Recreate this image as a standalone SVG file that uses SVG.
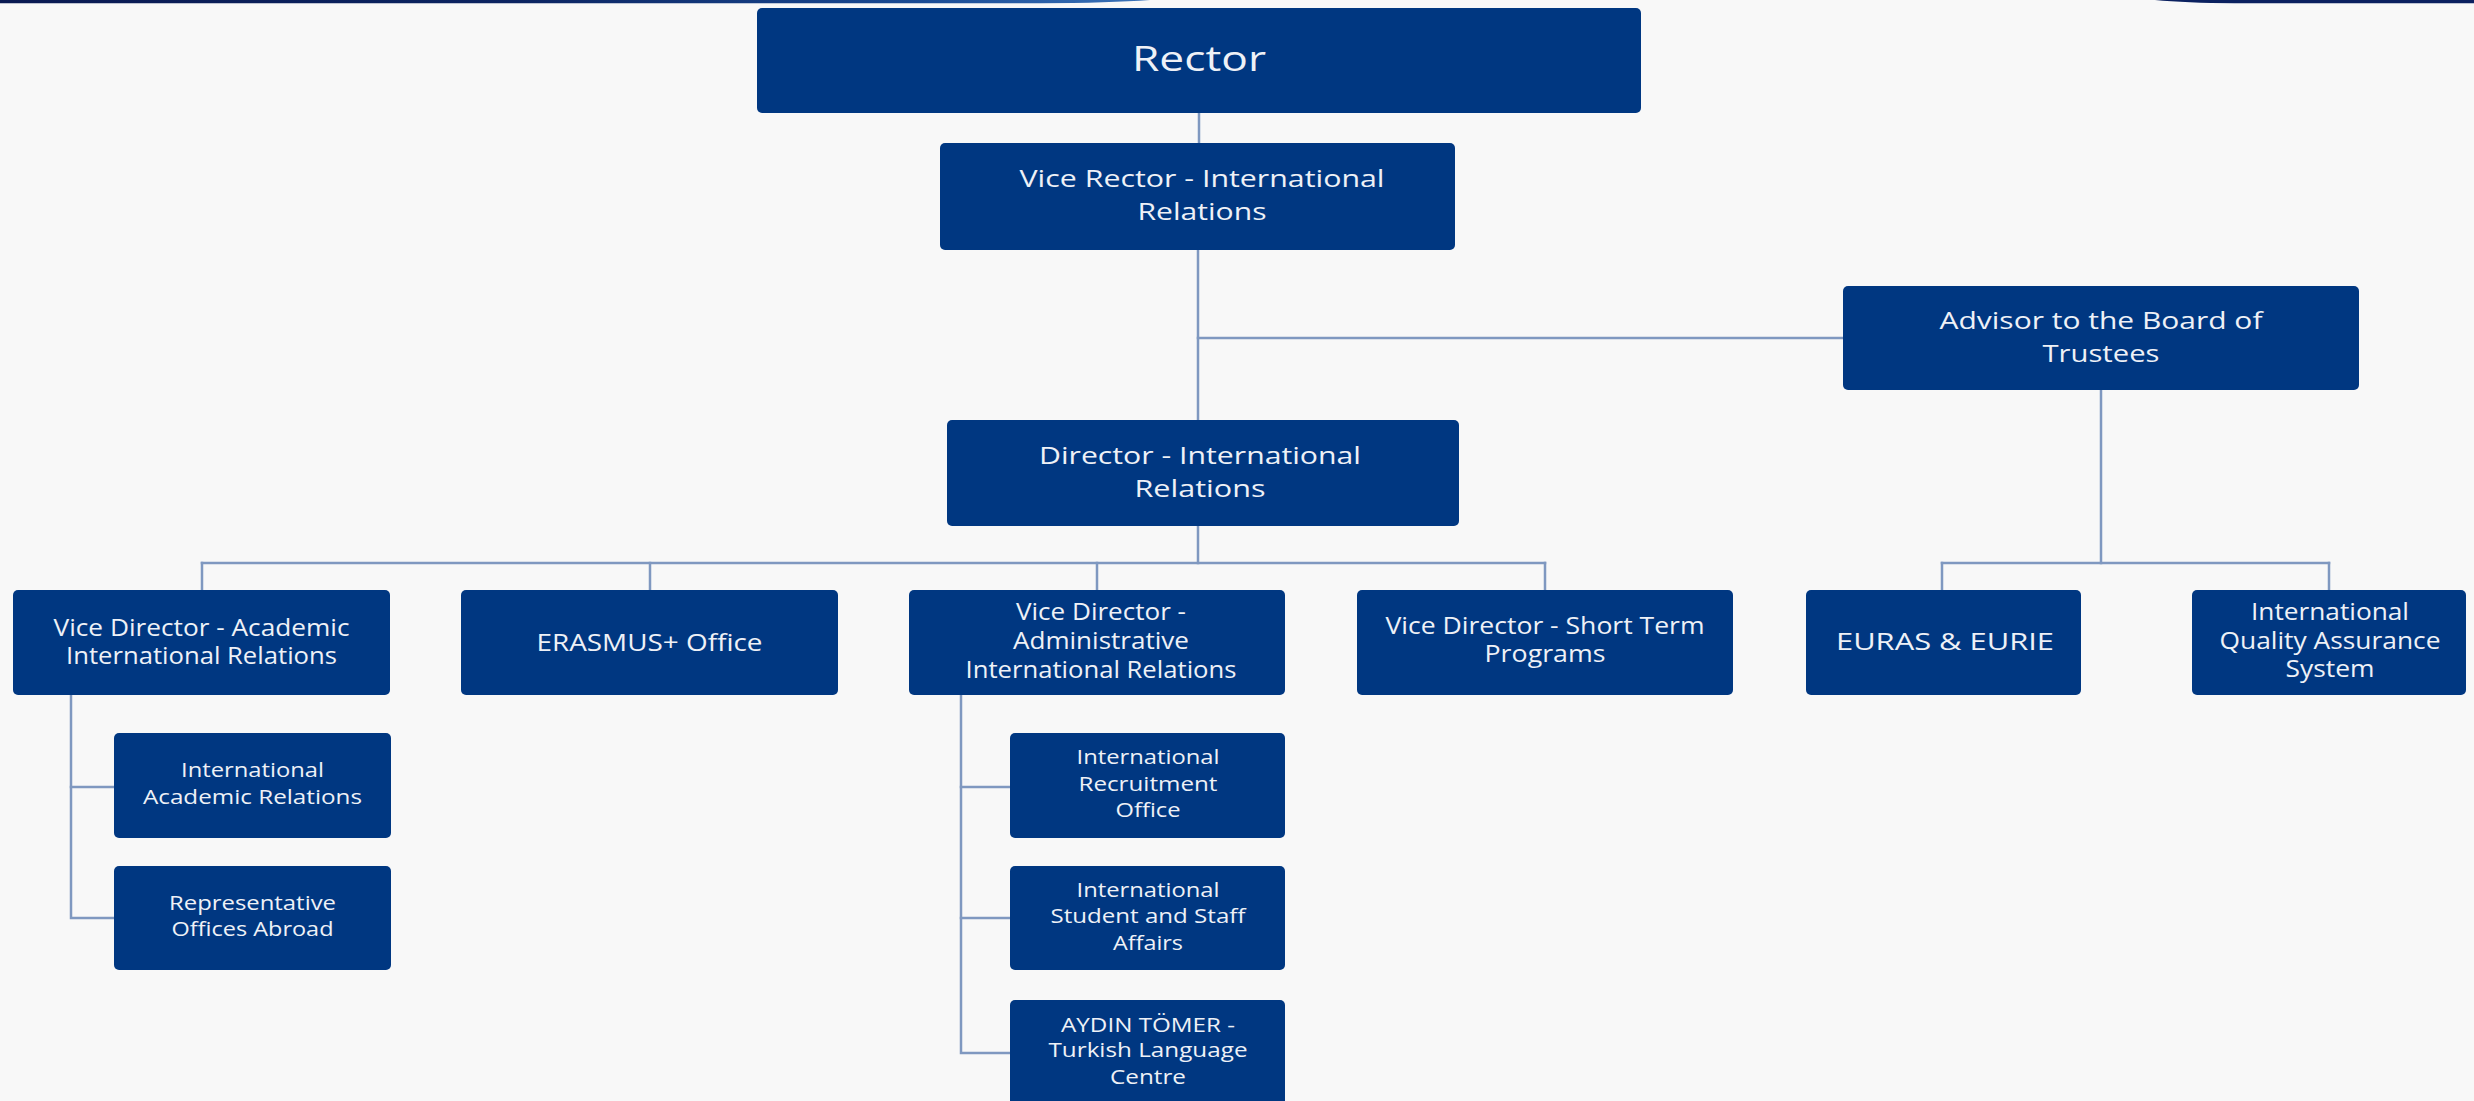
<svg xmlns="http://www.w3.org/2000/svg" width="2474" height="1101" viewBox="0 0 2474 1101">
<defs>
<linearGradient id="band" x1="0" y1="0" x2="1" y2="0">
<stop offset="0" stop-color="#0a1a52"/>
<stop offset="0.45" stop-color="#0c2461"/>
<stop offset="0.8" stop-color="#1a4b94"/>
<stop offset="1" stop-color="#3a72b8"/>
</linearGradient>
<style>
.box{fill:#003781;}
.t{font-family:"Open Sans","Noto Sans","DejaVu Sans",sans-serif;fill:#eef1f7;text-anchor:middle;}
.t0{font-size:34px;}
.t1{font-size:24px;}
.t2{font-size:23px;}
.t3{font-size:20px;}
.conn{stroke:#7f98c0;stroke-width:2.5;fill:none;stroke-linecap:square;}
</style>
</defs>
<rect x="0" y="0" width="2474" height="1101" fill="#f8f8f8"/>
<path d="M0,0 H1150 Q1110,3 1040,3.2 H0 Z" fill="url(#band)"/>
<path d="M2155,0 H2474 V3.2 H2235 Q2185,3 2155,0 Z" fill="#0b2160"/>

<g id="connectors" class="conn">
<path d="M1199,113 V143"/>
<path d="M1198,250 V420"/>
<path d="M1198,338 H1843"/>
<path d="M1198,526 V563"/>
<path d="M202,563 H1545"/>
<path d="M202,563 V590"/>
<path d="M650,563 V590"/>
<path d="M1097,563 V590"/>
<path d="M1545,563 V590"/>
<path d="M2101,390 V563"/>
<path d="M1942,563 H2329"/>
<path d="M1942,563 V590"/>
<path d="M2329,563 V590"/>
<path d="M71,695 V918 H114"/>
<path d="M71,787 H114"/>
<path d="M961,695 V1053 H1010"/>
<path d="M961,787 H1010"/>
<path d="M961,918 H1010"/>
</g>

<g id="rector">
<rect class="box" x="757" y="8" width="884" height="105" rx="5"/>
<text class="t t0" x="1199" y="71" textLength="134" lengthAdjust="spacingAndGlyphs">Rector</text>
</g>
<g id="vice-rector">
<rect class="box" x="940" y="143" width="515" height="107" rx="5"/>
<text class="t t1" x="1202" y="187" textLength="365" lengthAdjust="spacingAndGlyphs">Vice Rector - International</text>
<text class="t t1" x="1202" y="220" textLength="129" lengthAdjust="spacingAndGlyphs">Relations</text>
</g>
<g id="advisor">
<rect class="box" x="1843" y="286" width="516" height="104" rx="5"/>
<text class="t t1" x="2101" y="329" textLength="323" lengthAdjust="spacingAndGlyphs">Advisor to the Board of</text>
<text class="t t1" x="2101" y="362" textLength="117" lengthAdjust="spacingAndGlyphs">Trustees</text>
</g>
<g id="director">
<rect class="box" x="947" y="420" width="512" height="106" rx="5"/>
<text class="t t1" x="1200" y="464" textLength="322" lengthAdjust="spacingAndGlyphs">Director - International</text>
<text class="t t1" x="1200" y="497" textLength="131" lengthAdjust="spacingAndGlyphs">Relations</text>
</g>

<g id="vd-academic">
<rect class="box" x="13" y="590" width="377" height="105" rx="5"/>
<text class="t t2" x="201.5" y="636" textLength="296" lengthAdjust="spacingAndGlyphs">Vice Director - Academic</text>
<text class="t t2" x="201.5" y="664" textLength="271" lengthAdjust="spacingAndGlyphs">International Relations</text>
</g>
<g id="erasmus">
<rect class="box" x="461" y="590" width="377" height="105" rx="5"/>
<text class="t t2" x="649.5" y="651" textLength="226" lengthAdjust="spacingAndGlyphs">ERASMUS+ Office</text>
</g>
<g id="vd-administrative">
<rect class="box" x="909" y="590" width="376" height="105" rx="5"/>
<text class="t t2" x="1101" y="620" textLength="170" lengthAdjust="spacingAndGlyphs">Vice Director -</text>
<text class="t t2" x="1101" y="649" textLength="176" lengthAdjust="spacingAndGlyphs">Administrative</text>
<text class="t t2" x="1101" y="678" textLength="271" lengthAdjust="spacingAndGlyphs">International Relations</text>
</g>
<g id="vd-short-term">
<rect class="box" x="1357" y="590" width="376" height="105" rx="5"/>
<text class="t t2" x="1545" y="634" textLength="319" lengthAdjust="spacingAndGlyphs">Vice Director - Short Term</text>
<text class="t t2" x="1545" y="662" textLength="121" lengthAdjust="spacingAndGlyphs">Programs</text>
</g>
<g id="euras">
<rect class="box" x="1806" y="590" width="275" height="105" rx="5"/>
<text class="t t2" x="1945" y="650" textLength="218" lengthAdjust="spacingAndGlyphs">EURAS &amp; EURIE</text>
</g>
<g id="iqas">
<rect class="box" x="2192" y="590" width="274" height="105" rx="5"/>
<text class="t t2" x="2330" y="620" textLength="158" lengthAdjust="spacingAndGlyphs">International</text>
<text class="t t2" x="2330" y="649" textLength="221" lengthAdjust="spacingAndGlyphs">Quality Assurance</text>
<text class="t t2" x="2330" y="677" textLength="89" lengthAdjust="spacingAndGlyphs">System</text>
</g>

<g id="int-academic-relations">
<rect class="box" x="114" y="733" width="277" height="105" rx="5"/>
<text class="t t3" x="252.5" y="777" textLength="143" lengthAdjust="spacingAndGlyphs">International</text>
<text class="t t3" x="252.5" y="804" textLength="219" lengthAdjust="spacingAndGlyphs">Academic Relations</text>
</g>
<g id="representative-offices">
<rect class="box" x="114" y="866" width="277" height="104" rx="5"/>
<text class="t t3" x="252.5" y="910" textLength="167" lengthAdjust="spacingAndGlyphs">Representative</text>
<text class="t t3" x="252.5" y="936" textLength="162" lengthAdjust="spacingAndGlyphs">Offices Abroad</text>
</g>
<g id="recruitment-office">
<rect class="box" x="1010" y="733" width="275" height="105" rx="5"/>
<text class="t t3" x="1148" y="764" textLength="143" lengthAdjust="spacingAndGlyphs">International</text>
<text class="t t3" x="1148" y="791" textLength="139" lengthAdjust="spacingAndGlyphs">Recruitment</text>
<text class="t t3" x="1148" y="817" textLength="65" lengthAdjust="spacingAndGlyphs">Office</text>
</g>
<g id="student-staff-affairs">
<rect class="box" x="1010" y="866" width="275" height="104" rx="5"/>
<text class="t t3" x="1148" y="897" textLength="143" lengthAdjust="spacingAndGlyphs">International</text>
<text class="t t3" x="1148" y="923" textLength="195" lengthAdjust="spacingAndGlyphs">Student and Staff</text>
<text class="t t3" x="1148" y="950" textLength="70" lengthAdjust="spacingAndGlyphs">Affairs</text>
</g>
<g id="aydin-tomer">
<rect class="box" x="1010" y="1000" width="275" height="120" rx="5"/>
<text class="t t3" x="1148" y="1032" textLength="174" lengthAdjust="spacingAndGlyphs">AYDIN TÖMER -</text>
<text class="t t3" x="1148" y="1057" textLength="199" lengthAdjust="spacingAndGlyphs">Turkish Language</text>
<text class="t t3" x="1148" y="1084" textLength="76" lengthAdjust="spacingAndGlyphs">Centre</text>
</g>
</svg>
